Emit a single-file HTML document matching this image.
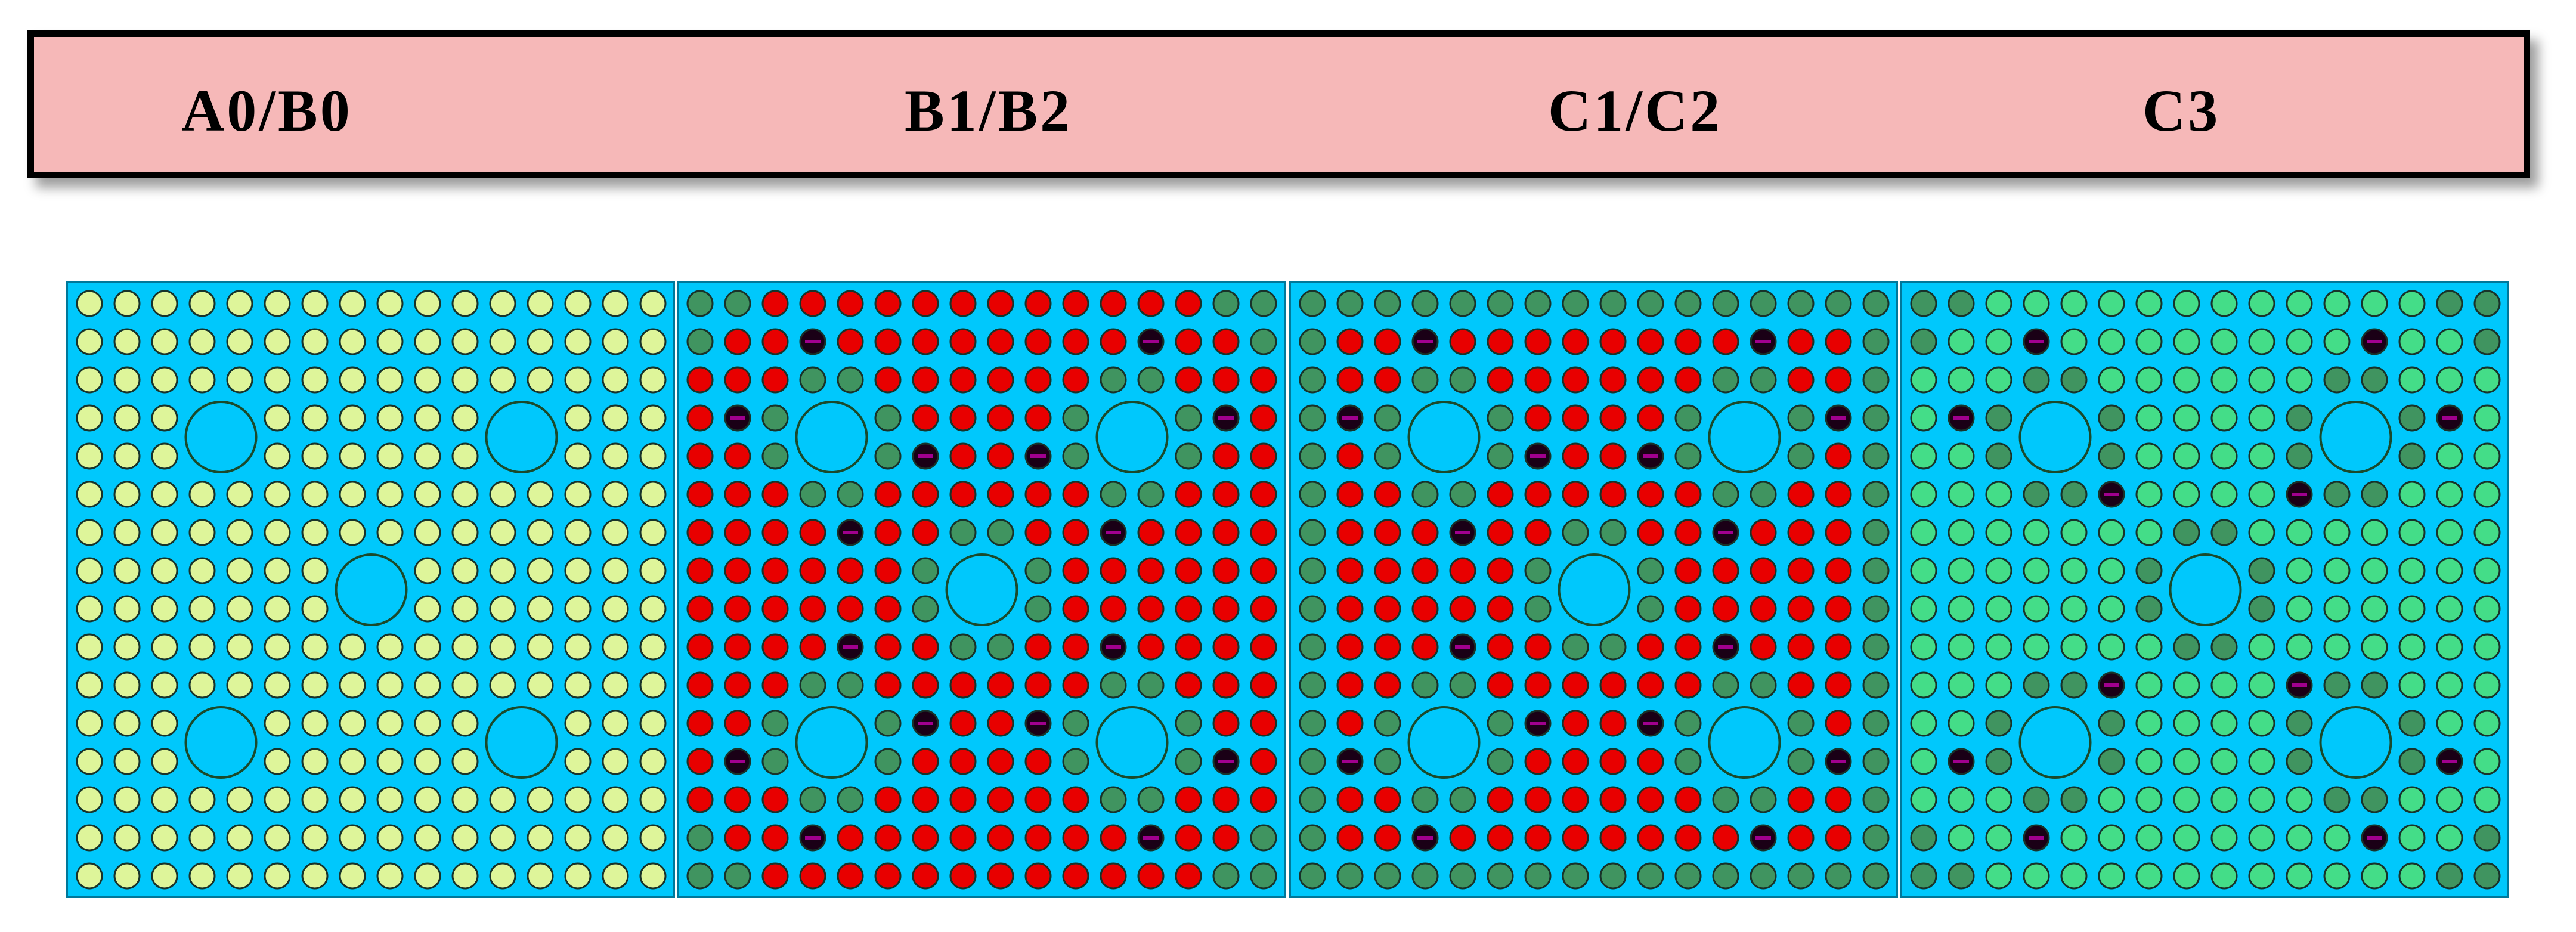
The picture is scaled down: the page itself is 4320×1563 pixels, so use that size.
<!DOCTYPE html>
<html><head><meta charset="utf-8">
<style>
html,body{margin:0;padding:0;background:#fff;width:4320px;height:1563px;overflow:hidden}
#hdr{position:absolute;left:46px;top:51px;width:4175px;height:226px;background:#f6b8b8;border:11px solid #000;box-shadow:14px 16px 18px rgba(0,0,0,0.38)}
.t{position:absolute;top:136px;font:bold 100px "Liberation Serif",serif;color:#000;letter-spacing:4px;line-height:100px}
svg{position:absolute;left:0;top:0}
</style></head><body>
<div id="hdr"></div>
<div class="t" style="left:304px">A0/B0</div>
<div class="t" style="left:1517px">B1/B2</div>
<div class="t" style="left:2596px">C1/C2</div>
<div class="t" style="left:3593px">C3</div>
<svg id="s" width="4320" height="1563" xmlns="http://www.w3.org/2000/svg"></svg>
<script>
var P2=["GGRRRRRRRRRRRRGG","GRRKRRRRRRRRKRRG","RRRGGRRRRRRGGRRR","RKGCCGRRRRGCCGKR","RRGCCGKRRKGCCGRR","RRRGGRRRRRRGGRRR","RRRRKRRGGRRKRRRR","RRRRRRGCCGRRRRRR"];
var P4=["DDLLLLLLLLLLLLDD","DLLKLLLLLLLLKLLD","LLLDDLLLLLLDDLLL","LKDCCDLLLLDCCDKL","LLDCCDLLLLDCCDLL","LLLDDKLLLLKDDLLL","LLLLLLLDDLLLLLLL","LLLLLLDCCDLLLLLL"];
function full(h){var a=h.slice();for(var i=7;i>=0;i--)a.push(h[i]);return a;}
var m2=full(P2), m3=m2.map(function(r,i){if(i==0||i==15)return "GGGGGGGGGGGGGGGG";return "G"+r.slice(1,15)+"G";});
var m4=full(P4).map(function(r){return r.replace(/D/g,"G");});
var m1=m2.map(function(r){return r.replace(/[RGK]/g,"Y");});
var col={Y:"#def59a",R:"#e80000",G:"#409460",L:"#44dd88",K:"#1a0016"};
var m4c=full(P4);
var panels=[[1135,m1],[1135,m2],[2162,m3],[3187,m4c]];
panels[0][0]=111;
var s="";
panels.forEach(function(p){
 var x0=p[0],y0=472,m=p[1];
 s+='<rect x="'+(x0+1.5)+'" y="'+(y0+1.5)+'" width="1018" height="1031" fill="#00c8fc" stroke="#00789a" stroke-width="3"/>';
 for(var r=0;r<16;r++)for(var c=0;c<16;c++){
  var ch=m[r][c];if(ch=="C")continue;
  var cx=x0+39+c*63,cy=y0+37+r*64;
  var f=col[ch]||col.G; if(ch=="D")f=col.G;
  s+='<circle cx="'+cx+'" cy="'+cy+'" r="21" fill="'+f+'" stroke="#18332a" stroke-width="3"/>';
  if(ch=="K")s+='<rect x="'+(cx-13)+'" y="'+(cy-3)+'" width="26" height="6" fill="#a0008e"/>';
 }
 [[3.5,3.5],[3.5,11.5],[7.5,7.5],[11.5,3.5],[11.5,11.5]].forEach(function(g){
  s+='<circle cx="'+(x0+39+g[1]*63)+'" cy="'+(y0+37+g[0]*64)+'" r="59" fill="#00c8fc" stroke="#1a4a2c" stroke-width="4"/>';
 });
});
document.getElementById("s").innerHTML=s;
</script>
</body></html>
